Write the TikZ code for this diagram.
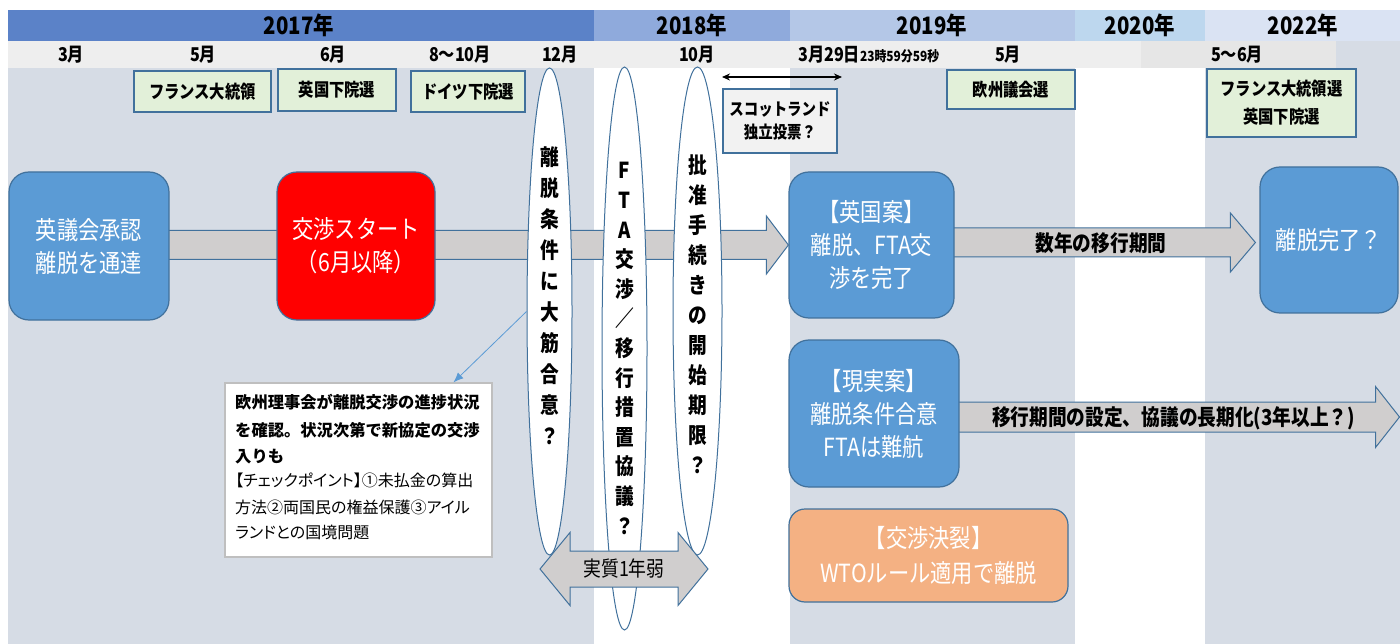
\documentclass[tikz,border=0pt]{standalone}
\usepackage{fontspec}
\setmainfont{Noto Sans CJK JP}
\newfontfamily\cnd{Noto Sans CJK JP}[FakeStretch=0.85]
\newfontfamily\jpp{Noto Sans CJK JP}[RawFeature=+palt]
\usetikzlibrary{shapes.geometric,arrows.meta,calc}
\definecolor{cA}{RGB}{91,130,200}
\definecolor{cB}{RGB}{143,170,220}
\definecolor{cC}{RGB}{180,199,231}
\definecolor{cD}{RGB}{189,215,238}
\definecolor{cE}{RGB}{218,227,243}
\definecolor{bgc}{RGB}{214,220,229}
\definecolor{mrow}{RGB}{238,238,238}
\definecolor{mrowb}{RGB}{230,230,230}
\definecolor{bord}{RGB}{65,113,156}
\definecolor{boxblue}{RGB}{91,155,213}
\definecolor{gboxc}{RGB}{226,240,217}
\definecolor{orng}{RGB}{244,177,131}
\definecolor{barc}{RGB}{208,206,206}
\definecolor{scotc}{RGB}{242,242,242}
\definecolor{callc}{RGB}{91,155,213}
\definecolor{cbord}{RGB}{191,191,191}
\pgfdeclarelayer{back}
\pgfdeclarelayer{mid}
\pgfsetlayers{back,mid,main}
\tikzset{
  yr/.style={font=\cnd\bfseries\fontsize{24}{24}\selectfont, inner sep=0pt},
  mo/.style={font=\cnd\bfseries\fontsize{19}{19}\selectfont, inner sep=0pt},
  gbox/.style={draw=bord, line width=1.3pt, fill=gboxc, font=\cnd\bfseries\fontsize{18}{28}\selectfont, align=center, inner sep=0pt},
  wbox/.style={draw=bord, line width=1.2pt, fill=boxblue, rounded corners=20pt, text=white, font=\cnd\fontsize{25}{33}\selectfont, align=center, inner sep=0pt},
  ell/.style={ellipse, draw=bord, line width=1pt, fill=white, inner sep=0pt},
  vtext/.style={font=\cnd\bfseries\fontsize{22}{#1}\selectfont, align=center, inner sep=0pt},
  barst/.style={draw=bord, line width=1pt, fill=barc},
  barlbl/.style={font=\cnd\bfseries\fontsize{22}{22}\selectfont, inner sep=0pt},
  callout/.style={draw=callc, line width=0.8pt, -{Latex[length=10pt,width=8pt]}},
  cbold/.style={anchor=base west, inner sep=0pt, font=\bfseries\fontsize{16.3}{16.3}\selectfont},
  creg/.style={anchor=base west, inner sep=0pt, font=\jpp\fontsize{16}{16}\selectfont},
}
\begin{document}
\begin{tikzpicture}[x=1pt,y=-1pt]
\useasboundingbox (0,0) rectangle (1400,644);
\begin{pgfonlayer}{back}
\fill[white] (0,0) rectangle (1400,644);
\fill[cA] (8,10) rectangle (594,41);
\fill[cB] (594,10) rectangle (790,41);
\fill[cC] (790,10) rectangle (1075,41);
\fill[cD] (1075,10) rectangle (1205,41);
\fill[cE] (1205,10) rectangle (1400,41);
\fill[mrow] (8,41) rectangle (1141,68);
\fill[mrowb] (1141,41) rectangle (1336,68);
\fill[bgc] (1336,41) rectangle (1400,68);
\fill[bgc] (8,68) rectangle (594,644);
\fill[bgc] (790,68) rectangle (1075,644);
\fill[bgc] (1205,68) rectangle (1400,644);
\end{pgfonlayer}
% years
\node[yr] (y17) at (299,25) {2017年};
\node[yr] (y18) at (692,25) {2018年};
\node[yr] (y19) at (932,25) {2019年};
\node[yr] (y20) at (1140,25) {2020年};
\node[yr] (y22) at (1303,25) {2022年};
% months
\node[mo] (m1) at (71,55) {3月};
\node[mo] (m2) at (203,55) {5月};
\node[mo] (m3) at (333,55) {6月};
\node[mo] (m4) at (460,55) {8〜10月};
\node[mo] (m5) at (560,55) {12月};
\node[mo] (m6) at (697,55) {10月};
\node[mo, anchor=west] (m7) at (798,55) {3月29日{\fontsize{14}{14}\selectfont 23時59分59秒}};
\node[mo] (m8) at (1008,55) {5月};
\node[mo] (m9) at (1237,55) {5〜6月};
% green boxes
\node[gbox, minimum width=137pt, minimum height=41pt] (g1) at (202.5,91.5) {フランス大統領};
\node[gbox, minimum width=118pt, minimum height=42pt] (g2) at (337,90) {英国下院選};
\node[gbox, minimum width=114pt, minimum height=41pt] (g3) at (468,91.5) {ドイツ下院選};
\node[gbox, minimum width=128pt, minimum height=39pt] (g4) at (1011,89.5) {欧州議会選};
\node[gbox, minimum width=149pt, minimum height=68pt] (g5) at (1281.5,103) {フランス大統領選\\英国下院選};
% scotland
\coordinate (s1) at (722,77);
\coordinate (s2) at (842,77);
\draw[{Stealth[length=8pt,width=7pt]}-{Stealth[length=8pt,width=7pt]}, line width=1.2pt] (s1) -- (s2);
\node[gbox, fill=scotc, font=\cnd\bfseries\fontsize{17}{23}\selectfont, minimum width=114pt, minimum height=64pt] (sc) at (780,121) {スコットランド\\独立投票？};
% ellipses
\node[ell, minimum width=45pt, minimum height=487pt] (E1) at (549.5,311.5) {};
\node[vtext=31] (t1) at (549.5,295.5) {離\\脱\\条\\件\\に\\大\\筋\\合\\意\\？};
\node[ell, minimum width=45pt, minimum height=563pt] (E2) at (624.5,348.5) {};
\node[vtext=29.6] (t2) at (624.5,348.5) {F\\T\\A\\交\\渉\\／\\移\\行\\措\\置\\協\\議\\？};
\node[ell, minimum width=49pt, minimum height=488pt] (E3) at (697.5,311) {};
\node[vtext=30] (t3) at (697.5,314) {批\\准\\手\\続\\き\\の\\開\\始\\期\\限\\？};
% double arrow
\coordinate (dL) at (540,569);
\coordinate (dR) at (708,569);
\path[barst] (dL) -- ($(dL)+(30,-36.5)$) -- ($(dL)+(30,-18)$) -- ($(dR)+(-30,-18)$) -- ($(dR)+(-30,-36.5)$) -- (dR) -- ($(dR)+(-30,36.5)$) -- ($(dR)+(-30,18)$) -- ($(dL)+(30,18)$) -- ($(dL)+(30,36.5)$) -- cycle;
\node[font=\cnd\fontsize{21}{21}\selectfont, inner sep=0pt] (gap) at ($(dL)!0.5!(dR)$) {実質1年弱};
% boxes
\node[wbox, minimum width=160pt, minimum height=148pt] (A) at (89,246) {英議会承認\\離脱を通達};
\node[wbox, fill=red, minimum width=158pt, minimum height=148pt] (B) at (356,246) {交渉スタート\\（6月以降）};
\node[wbox, minimum width=165pt, minimum height=146pt] (UK) at (871.5,245) {【英国案】\\離脱、FTA交\\渉を完了};
\node[wbox, minimum width=138pt, minimum height=146pt] (Done) at (1329,240) {離脱完了？};
\node[wbox, minimum width=170pt, minimum height=147pt] (Real) at (874,413.5) {【現実案】\\離脱条件合意\\FTAは難航};
\node[wbox, fill=orng, rounded corners=16pt, minimum width=279pt, minimum height=93pt, font=\cnd\fontsize{25}{35}\selectfont] (Fail) at (928.5,555.5) {【交渉決裂】\\WTOルール適用で離脱};
% bars
\begin{pgfonlayer}{mid}
\coordinate (b1t) at (UK.west);
\path[barst] ($(A.east |- b1t)+(-3,-14.5)$) -- ($(b1t)+(-22,-14.5)$) -- ($(b1t)+(-22,-29)$) -- (b1t) -- ($(b1t)+(-22,29)$) -- ($(b1t)+(-22,14.5)$) -- ($(A.east |- b1t)+(-3,14.5)$) -- cycle;
\coordinate (a2s) at ($(UK.east)+(0,-2.5)$);
\coordinate (a2t) at ($(Done.west |- a2s)+(-4,0)$);
\path[barst] ($(a2s)+(-3,-14.5)$) -- ($(a2t)+(-25,-14.5)$) -- ($(a2t)+(-25,-29.5)$) -- (a2t) -- ($(a2t)+(-25,29.5)$) -- ($(a2t)+(-25,14.5)$) -- ($(a2s)+(-3,14.5)$) -- cycle;
\coordinate (a3s) at ($(Real.east)+(0,3.5)$);
\coordinate (a3t) at (1399.5,417);
\path[barst] ($(a3s)+(-3,-15)$) -- ($(a3t)+(-24,-15)$) -- ($(a3t)+(-24,-30.5)$) -- (a3t) -- ($(a3t)+(-24,30.5)$) -- ($(a3t)+(-24,15)$) -- ($(a3s)+(-3,15)$) -- cycle;
\end{pgfonlayer}
\node[barlbl] (l2) at ($(a2s)!0.5!(a2t)+(-4,1)$) {数年の移行期間};
\node[barlbl] (l3) at ($(a3s)!0.5!(a3t)+(-6,1)$) {移行期間の設定、協議の長期化(3年以上？)};
% callout
\node[draw=cbord, line width=1.2pt, fill=white, minimum width=267pt, minimum height=174pt, inner sep=0pt] (CB) at (358.5,470) {};
\node[cbold] (c1) at (235,408) {欧州理事会が離脱交渉の進捗状況};
\node[cbold] (c2) at (235,436) {を確認。状況次第で新協定の交渉};
\node[cbold] (c3) at (235,462) {入りも};
\node[creg] (c4) at (235,486.5) {【チェックポイント】①未払金の算出};
\node[creg] (c5) at (235,513) {方法②両国民の権益保護③アイル};
\node[creg] (c6) at (235,538) {ランドとの国境問題};
\draw[callout] (E1.west) -- ($(CB.north west)!0.854!(CB.north east)$);
\end{tikzpicture}
\end{document}
